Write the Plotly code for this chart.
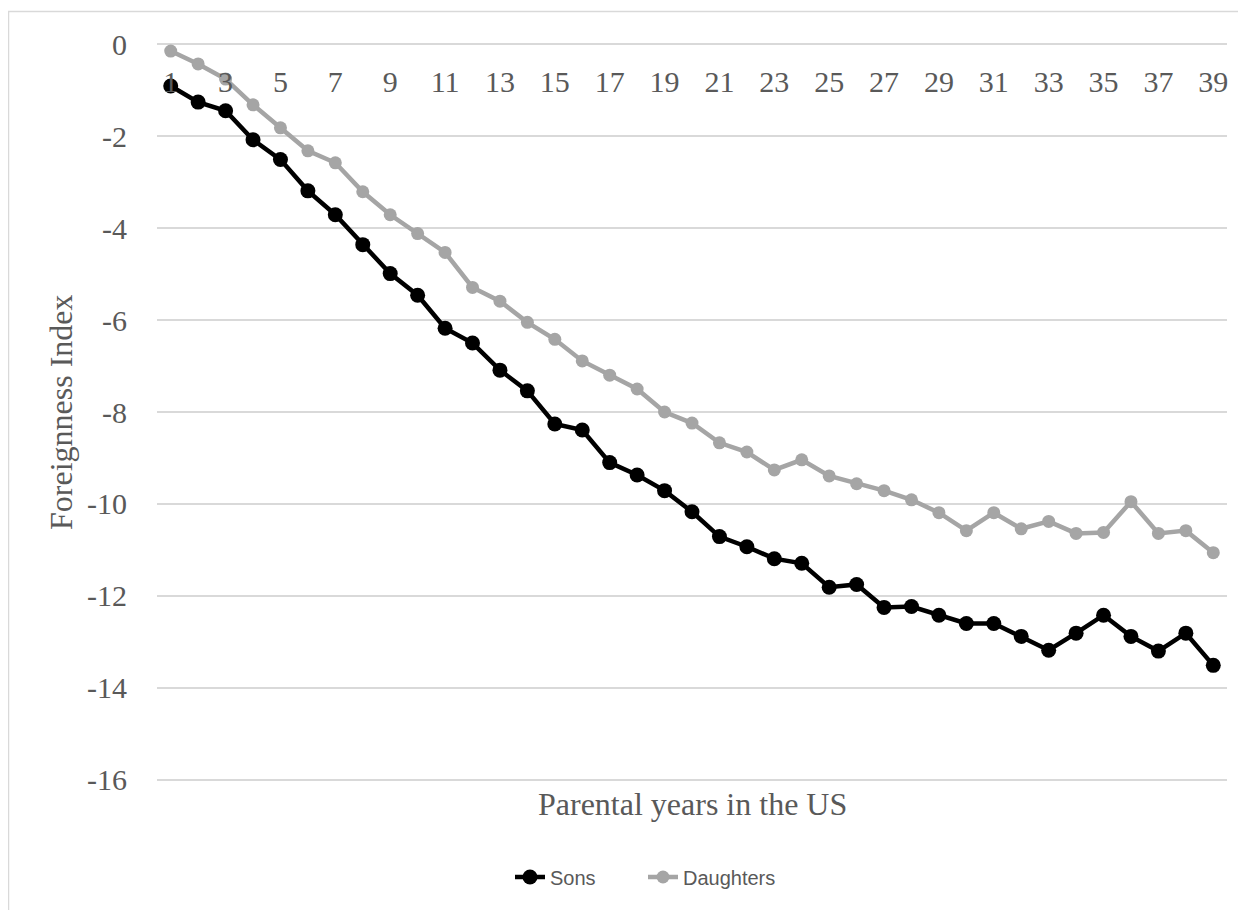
import plotly.graph_objects as go

years = list(range(1, 40))
sons = [-0.91, -1.26, -1.45, -2.08, -2.51, -3.19, -3.71, -4.36, -4.99, -5.46,
        -6.18, -6.50, -7.09, -7.54, -8.26, -8.39, -9.10, -9.37, -9.71, -10.17,
        -10.71, -10.93, -11.19, -11.29, -11.81, -11.75, -12.25, -12.23, -12.42, -12.60,
        -12.60, -12.88, -13.18, -12.81, -12.42, -12.88, -13.20, -12.81, -13.51]
daughters = [-0.15, -0.43, -0.76, -1.32, -1.82, -2.32, -2.58, -3.21, -3.71, -4.12,
             -4.53, -5.29, -5.59, -6.05, -6.42, -6.89, -7.20, -7.50, -8.00, -8.24,
             -8.67, -8.87, -9.26, -9.04, -9.39, -9.56, -9.71, -9.91, -10.19, -10.58,
             -10.19, -10.54, -10.38, -10.64, -10.62, -9.95, -10.64, -10.58, -11.06]
x_ticks = [y for y in years if y % 2 == 1]
y_ticks = [0, -2, -4, -6, -8, -10, -12, -14, -16]

GRAY_TXT = "#595959"
GRID = "#d9d9d9"
SERIF = "Liberation Serif, Times New Roman, serif"

# page body has an 8px margin; work in page coordinates and subtract it
OFF = 8
W, H = 1246 - OFF, 910 - OFF
PL, PT, PR, PB = 157, 43, 1227, 781          # plot area in page px
L, T = PL - OFF, PT - OFF
R, B = W - (PR - OFF), H - (PB - OFF)
pw, ph = PR - PL, PB - PT


def py(page_y):
    return (PB - page_y) / ph


def px(page_x):
    return (page_x - PL) / pw


fig = go.Figure()
fig.add_trace(go.Scatter(x=years, y=sons, name="Sons", mode="lines+markers",
                         line=dict(color="#000000", width=4.5),
                         marker=dict(color="#000000", size=15)))
fig.add_trace(go.Scatter(x=years, y=daughters, name="Daughters", mode="lines+markers",
                         line=dict(color="#a5a5a5", width=4.5),
                         marker=dict(color="#a5a5a5", size=13)))

fig.update_layout(
    width=W, height=H,
    margin=dict(l=L, r=R, t=T, b=B, autoexpand=False),
    paper_bgcolor="white", plot_bgcolor="white",
    showlegend=True,
    legend=dict(orientation="h", x=px(510), xanchor="left",
                y=py(877), yanchor="middle",
                entrywidth=88, entrywidthmode="pixels",
                font=dict(family="Liberation Sans, Arial, sans-serif", size=20, color=GRAY_TXT),
                bgcolor="rgba(0,0,0,0)"),
    xaxis=dict(range=[0.5, 39.5], side="bottom", anchor="free", position=1,
               tickmode="array", tickvals=x_ticks, ticktext=[str(v) for v in x_ticks],
               showgrid=False, zeroline=False, showline=False, ticks="",
               ticklabelstandoff=18, automargin=False,
               tickfont=dict(family=SERIF, size=30, color=GRAY_TXT)),
    yaxis=dict(range=[-16.025, 0.025], tickmode="array", tickvals=y_ticks,
               ticktext=[str(v) for v in y_ticks],
               showgrid=True, gridcolor=GRID, gridwidth=1.5,
               zeroline=False,
               showline=False, ticks="", ticklabelstandoff=29, automargin=False,
               tickfont=dict(family=SERIF, size=30, color=GRAY_TXT)),
    annotations=[
        dict(text="Parental years in the US", xref="paper", yref="paper",
             x=0.5, y=py(804), xanchor="center", yanchor="middle",
             showarrow=False,
             font=dict(family=SERIF, size=32, color=GRAY_TXT)),
        dict(text="Foreignness Index", xref="paper", yref="paper",
             x=px(61), y=0.5, xanchor="center", yanchor="middle", textangle=-90,
             showarrow=False,
             font=dict(family=SERIF, size=32, color=GRAY_TXT)),
    ],
    shapes=[dict(type="rect", xref="paper", yref="paper",
                 x0=px(8.5), x1=1.2,
                 y0=-0.3, y1=py(11.5),
                 line=dict(color=GRID, width=1.5), fillcolor="rgba(0,0,0,0)", layer="below")],
)

fig.write_html("out.html")
